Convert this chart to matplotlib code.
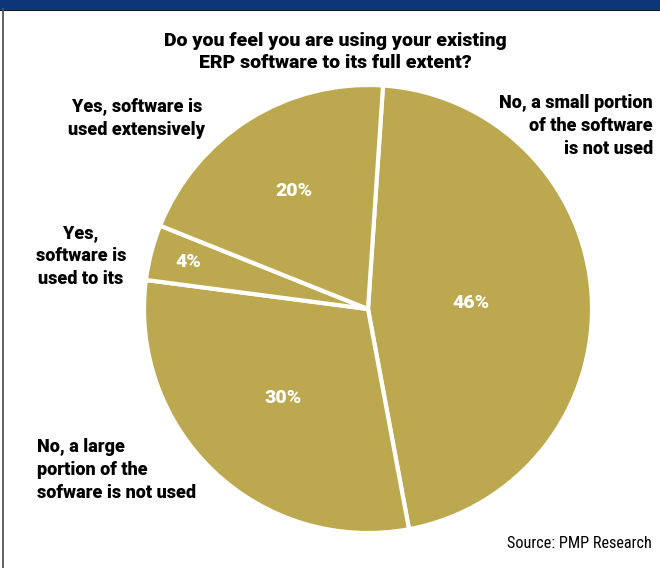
import matplotlib
matplotlib.use("Agg")
import matplotlib.pyplot as plt
from matplotlib.patches import Rectangle
import numpy as np

# Survey answers (percent of respondents)
categories = [
    "No, a small portion\nof the software\nis not used",
    "No, a large\nportion of the\nsofware is not used",
    "Yes,\nsoftware is\nused to its",
    "Yes, software is\nused extensively",
]
shares = [46, 30, 4, 20]

title = "Do you feel you are using your existing\nERP software to its full extent?"
source = "Source: PMP Research"

W, H = 660, 568
GOLD = "#bca84f"
NAVY = "#0c3679"
HEAVY = ["Roboto", "DejaVu Sans"]
NARROW = ["Roboto Condensed", "DejaVu Sans"]

fig = plt.figure(figsize=(W / 100, H / 100), dpi=100)
ax = fig.add_axes([0, 0, 1, 1])


def py(y):
    # convert a top-down pixel row into the axes' y coordinate
    return H - y


cx, cy, r = 368, py(309), 224
wedges, _ = ax.pie(
    shares,
    startangle=86.15,
    counterclock=False,
    center=(cx, cy),
    radius=r,
    colors=[GOLD] * len(shares),
    wedgeprops=dict(edgecolor="white", linewidth=3),
    frame=True,
)
ax.set_xlim(0, W)
ax.set_ylim(0, H)
ax.set_aspect("equal")
ax.axis("off")

# header band and left frame line
ax.add_patch(Rectangle((0, py(9)), W, 9, color=NAVY, zorder=5))
ax.plot([0, W], [py(9.5), py(9.5)], color="#1a1a22", lw=0.8, zorder=5)
ax.plot([3, 3], [py(9), 0], color="#555555", lw=1.3, zorder=5)

# percentage labels inside each wedge
pct_radius = [0.46, 0.55, 0.83, 0.62]
for w, v, f in zip(wedges, shares, pct_radius):
    mid = np.deg2rad((w.theta1 + w.theta2) / 2)
    ax.text(cx + f * r * np.cos(mid), cy + f * r * np.sin(mid), f"{v}%",
            color="white", fontsize=14, fontweight=900, family=HEAVY,
            ha="center", va="center")

# category labels around the pie
label_pos = [
    (653, 126, "right"),
    (37, 470, "left"),
    (81, 256, "center"),
    (137, 118, "center"),
]
for text, (x, y, ha) in zip(categories, label_pos):
    ax.text(x, py(y), text, fontsize=13, fontweight=900, family=HEAVY,
            ha=ha, va="center", multialignment=ha, linespacing=1.36)

ax.text(335, py(52), title, fontsize=14, fontweight=900, family=HEAVY,
        ha="center", va="center", multialignment="center", linespacing=1.27)
ax.text(652, py(543), source, fontsize=11.7, family=NARROW,
        ha="right", va="center")

fig.savefig("out.png", dpi=100)
